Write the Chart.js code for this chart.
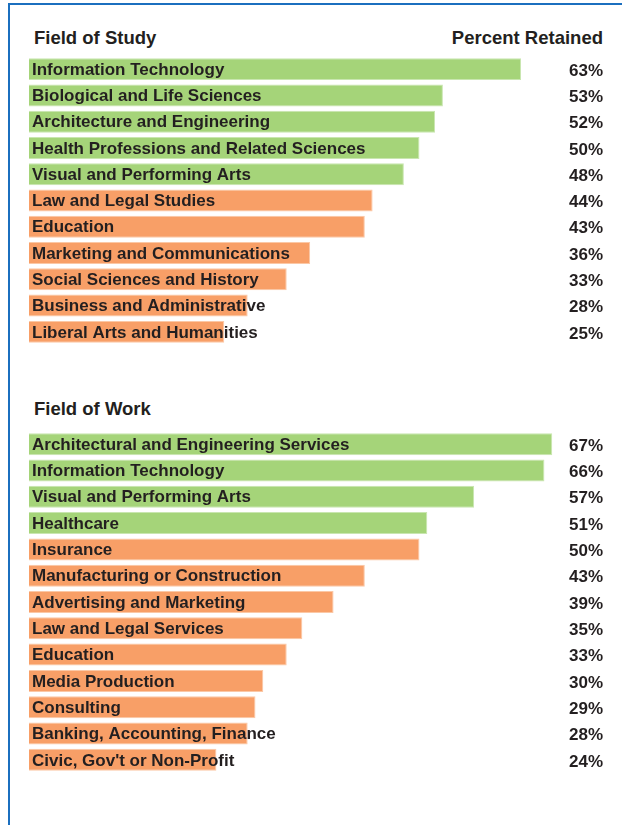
<!DOCTYPE html>
<html>
<head>
<meta charset="utf-8">
<script src="https://cdn.jsdelivr.net/npm/chart.js@4.4.1/dist/chart.umd.min.js"></script>
<style>
  html, body { margin: 0; padding: 0; background: #fff; }
  body { width: 622px; height: 825px; position: relative; overflow: hidden;
         font-family: "Liberation Sans", Arial, sans-serif; color: #231f20; }
  .frame { position: absolute; left: 8px; top: 3px; width: 640px; height: 900px;
           border-left: 2px solid #1b6fbf; border-top: 2px solid #1b6fbf; }
  .head { position: absolute; font-size: 18.5px; font-weight: bold; line-height: 20px; }
  .wrap { position: absolute; left: 0; width: 622px; }
</style>
</head>
<body>
<div class="frame"></div>
<div class="head" style="left:34px; top:28px;">Field of Study</div>
<div class="head" style="right:19px; top:28px;">Percent Retained</div>
<div class="head" style="left:34px; top:399px;">Field of Work</div>
<div class="wrap" style="top:56px; height:289px;"><canvas id="studyChart"></canvas></div>
<div class="wrap" style="top:431px; height:342px;"><canvas id="workChart"></canvas></div>

<script>
// Field of Study
const studyLabels = ['Information Technology', 'Biological and Life Sciences', 'Architecture and Engineering',
    'Health Professions and Related Sciences', 'Visual and Performing Arts', 'Law and Legal Studies',
    'Education', 'Marketing and Communications', 'Social Sciences and History',
    'Business and Administrative', 'Liberal Arts and Humanities'];
const studyValues = [63, 53, 52, 50, 48, 44, 43, 36, 33, 28, 25];
const studyTop = 5; // first 5 rows are green

// Field of Work
const workLabels = ['Architectural and Engineering Services', 'Information Technology', 'Visual and Performing Arts',
    'Healthcare', 'Insurance', 'Manufacturing or Construction', 'Advertising and Marketing',
    'Law and Legal Services', 'Education', 'Media Production', 'Consulting',
    'Banking, Accounting, Finance', "Civic, Gov't or Non-Profit"];
const workValues = [67, 66, 57, 51, 50, 43, 39, 35, 33, 30, 29, 28, 24];
const workTop = 4;

const green = '#a5d479';
const orange = '#f89f67';

// draws the category name over each bar and the percent on the right
const labelPlugin = {
    id: 'rowLabels',
    afterDatasetsDraw(chart) {
        const ctx = chart.ctx;
        const meta = chart.getDatasetMeta(0);
        const area = chart.chartArea;
        ctx.save();
        ctx.fillStyle = '#231f20';
        ctx.font = 'bold 17px "Liberation Sans", Arial, sans-serif';
        ctx.textBaseline = 'middle';
        meta.data.forEach(function (bar, i) {
            ctx.textAlign = 'left';
            ctx.fillText(chart.data.labels[i], area.left + 3, bar.y + 1);
            ctx.textAlign = 'right';
            ctx.fillText(chart.data.datasets[0].data[i] + '%', area.right, bar.y + 2);
        });
        ctx.restore();
    }
};

function makeChart(id, labels, values, nTop) {
    const colors = values.map((v, i) => i < nTop ? green : orange);
    const borders = values.map((v, i) => i < nTop ? '#c9e6b0' : '#fbc8a6');
    return new Chart(document.getElementById(id), {
        type: 'bar',
        data: {
            labels: labels,
            datasets: [{
                data: values,
                backgroundColor: colors,
                borderColor: borders,
                borderWidth: 1,
                categoryPercentage: 1,
                barPercentage: 22 / 26.3
            }]
        },
        options: {
            indexAxis: 'y',
            responsive: true,
            maintainAspectRatio: false,
            animation: false,
            layout: { padding: { left: 29, right: 19, top: 0, bottom: 0 } },
            plugins: { legend: { display: false }, tooltip: { enabled: false } },
            scales: {
                x: { display: false, min: 0, max: 73.5 },
                y: { display: false }
            }
        },
        plugins: [labelPlugin]
    });
}

makeChart('studyChart', studyLabels, studyValues, studyTop);
makeChart('workChart', workLabels, workValues, workTop);
</script>
</body>
</html>
